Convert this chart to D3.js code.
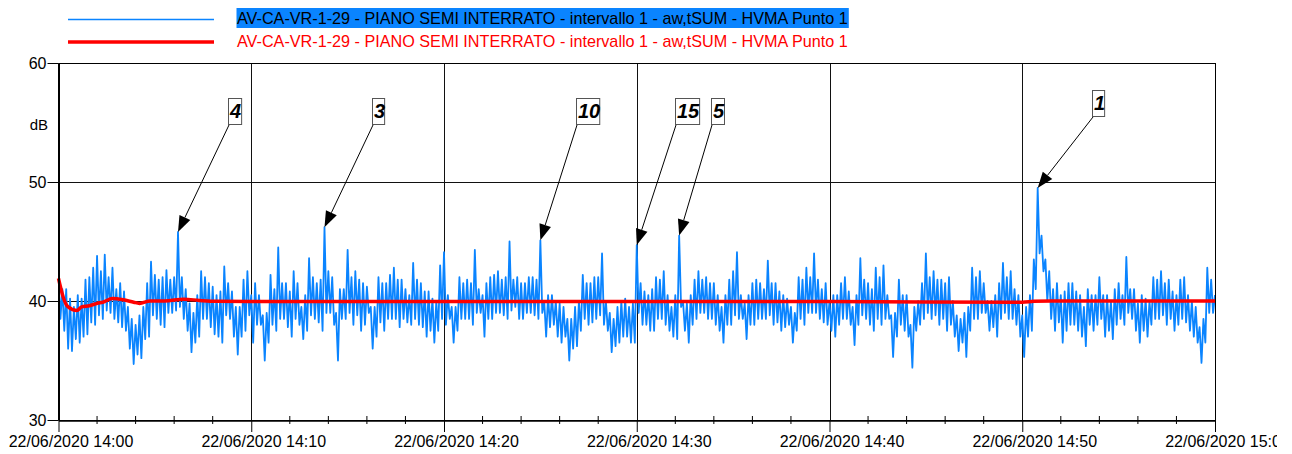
<!DOCTYPE html>
<html>
<head>
<meta charset="utf-8">
<script src="https://cdn.jsdelivr.net/npm/d3@7"></script>
<style>
body { margin: 0; background: #fff; }
svg { display: block; font-family: "Liberation Sans", Arial, sans-serif; }
</style>
</head>
<body>
<svg id="chart" width="1292" height="454"></svg>
<script>
var seriesName = "AV-CA-VR-1-29 - PIANO SEMI INTERRATO - intervallo 1 - aw,tSUM - HVMA Punto 1";
var startTime = new Date(2020, 5, 22, 14, 0, 0);
var endTime = new Date(2020, 5, 22, 15, 0, 0);
var stepSeconds = 6;
var yTicks = [30, 40, 50, 60];

// blue: short level, one value every 6 s
var levelValues = [
  42.2, 38.5, 41.0, 37.5, 41.0, 36.0, 40.2, 35.8, 39.5, 36.8, 40.5, 36.5, 40.2, 37.0, 41.8, 37.2, 42.0, 38.2, 42.8, 38.0,
  43.8, 38.8, 42.5, 38.5, 43.9, 39.2, 42.0, 39.0, 42.8, 38.5, 41.0, 38.2, 41.5, 37.8, 40.8, 37.5, 39.5, 36.0, 38.5, 34.7,
  38.0, 35.5, 38.8, 35.2, 39.5, 36.8, 41.5, 37.0, 43.3, 38.8, 42.2, 38.5, 41.8, 38.0, 42.0, 37.8, 42.6, 39.0, 41.8, 39.0,
  42.0, 39.2, 45.8, 39.5, 42.0, 38.5, 41.0, 37.5, 39.8, 35.7, 39.0, 36.5, 40.5, 37.0, 42.5, 38.5, 42.0, 38.5, 41.5, 37.8,
  41.2, 37.2, 40.5, 37.0, 40.8, 36.5, 42.9, 38.8, 41.5, 38.5, 40.8, 37.0, 39.5, 35.5, 39.5, 37.0, 41.8, 37.5, 42.5, 38.8,
  40.5, 36.5, 41.5, 38.0, 40.5, 38.0, 38.8, 35.0, 39.0, 36.5, 42.2, 38.0, 41.0, 37.5, 44.5, 38.5, 41.5, 38.5, 41.5, 37.8,
  40.8, 37.0, 42.5, 38.5, 41.5, 38.0, 39.5, 36.8, 40.5, 37.5, 43.6, 38.8, 42.0, 38.5, 41.5, 38.2, 41.8, 37.5, 46.2, 39.0,
  42.5, 39.0, 42.0, 38.0, 39.0, 35.0, 41.0, 38.5, 41.0, 38.5, 44.3, 39.0, 42.0, 38.0, 42.5, 38.8, 41.8, 37.5, 41.5, 38.0,
  41.2, 39.0, 39.5, 36.0, 39.5, 37.0, 42.0, 38.2, 41.5, 37.5, 41.5, 38.5, 42.2, 38.5, 42.8, 38.5, 41.8, 37.8, 41.8, 38.5,
  41.0, 38.2, 40.5, 38.0, 43.2, 38.5, 41.8, 38.0, 41.5, 37.8, 40.8, 37.0, 40.8, 37.5, 40.2, 36.5, 40.0, 37.5, 43.0, 38.5,
  44.1, 38.0, 40.5, 38.5, 39.5, 36.5, 39.5, 37.5, 42.0, 38.5, 41.5, 38.5, 41.8, 38.5, 41.5, 38.0, 44.3, 39.0, 41.0, 39.0,
  40.5, 37.0, 41.5, 38.5, 42.0, 38.5, 42.2, 39.0, 42.5, 39.0, 41.8, 38.8, 42.0, 38.5, 45.0, 39.2, 41.8, 39.5, 42.0, 38.5,
  41.5, 38.5, 41.5, 39.0, 42.0, 39.0, 42.0, 38.8, 41.8, 38.5, 45.1, 39.0, 40.0, 37.0, 40.5, 37.8, 40.5, 38.0, 40.0, 37.0,
  39.8, 36.5, 39.5, 37.0, 38.5, 35.0, 38.5, 36.0, 39.5, 36.2, 40.0, 37.5, 42.2, 38.5, 41.5, 38.0, 41.5, 38.2, 42.0, 38.5,
  42.0, 38.8, 44.0, 38.0, 40.0, 37.5, 39.0, 35.7, 38.5, 36.2, 39.5, 36.5, 40.0, 37.0, 40.2, 37.0, 39.5, 36.5, 39.8, 36.5,
  44.7, 39.0, 41.5, 38.0, 40.8, 38.0, 40.5, 37.5, 41.0, 37.5, 42.0, 38.5, 41.8, 38.5, 42.5, 38.0, 40.5, 37.5, 39.5, 37.0,
  40.5, 36.8, 45.5, 39.5, 40.0, 37.5, 39.8, 36.5, 40.5, 38.0, 41.8, 38.5, 42.5, 39.0, 41.8, 39.0, 42.0, 38.5, 41.5, 38.5,
  41.5, 38.0, 40.5, 37.5, 39.5, 36.5, 40.5, 38.0, 41.8, 38.0, 42.5, 38.8, 44.1, 38.5, 40.5, 38.5, 39.8, 36.8, 40.5, 38.0,
  41.5, 38.0, 41.8, 38.5, 41.5, 38.5, 41.0, 38.5, 43.4, 38.8, 41.5, 38.0, 41.5, 38.2, 40.8, 37.5, 40.5, 37.8, 40.2, 38.0,
  39.5, 36.5, 39.0, 37.5, 42.0, 38.5, 41.8, 38.0, 42.8, 39.0, 42.0, 39.0, 44.0, 39.0, 41.8, 38.5, 41.0, 38.2, 41.5, 38.0,
  40.0, 37.5, 40.5, 37.0, 40.5, 38.0, 41.5, 38.5, 42.0, 38.5, 40.8, 38.0, 39.5, 36.3, 40.5, 38.0, 43.6, 38.8, 41.8, 38.5,
  41.5, 38.0, 41.0, 37.5, 42.8, 38.5, 42.0, 38.0, 43.0, 38.5, 40.5, 38.5, 38.8, 35.3, 39.0, 37.0, 41.8, 38.0, 40.5, 37.5,
  40.5, 37.0, 38.0, 34.4, 39.5, 37.5, 40.0, 38.0, 41.5, 38.5, 44.0, 39.0, 42.0, 38.5, 42.5, 38.8, 41.8, 38.0, 41.8, 38.5,
  41.5, 37.5, 42.0, 38.0, 40.0, 37.0, 38.8, 35.8, 38.5, 36.5, 39.0, 35.3, 39.5, 37.5, 42.8, 38.5, 42.0, 38.5, 42.5, 39.0,
  41.5, 39.0, 40.0, 37.5, 40.0, 37.8, 40.5, 37.0, 41.5, 38.5, 43.2, 39.0, 42.0, 38.5, 42.5, 38.5, 41.0, 38.0, 40.5, 37.0,
  38.8, 35.3, 39.5, 37.0, 40.5, 37.5, 43.5, 41.0, 49.5, 44.0, 45.5, 42.5, 43.5, 40.0, 42.5, 38.5, 41.0, 37.5, 41.5, 38.2,
  40.5, 36.5, 40.8, 37.5, 41.5, 38.0, 41.5, 38.0, 40.8, 37.5, 40.5, 37.0, 39.5, 36.2, 41.0, 38.0, 40.5, 37.5, 40.5, 38.0,
  42.0, 38.5, 40.5, 37.0, 40.5, 37.5, 40.0, 36.8, 41.0, 38.0, 41.5, 38.5, 40.5, 38.0, 43.7, 39.0, 41.0, 38.5, 41.0, 37.5,
  39.8, 36.5, 40.5, 37.5, 40.2, 37.0, 40.0, 38.0, 42.0, 38.5, 41.8, 38.5, 42.5, 38.8, 41.5, 38.0, 41.8, 38.5, 40.8, 37.5,
  40.5, 38.0, 41.8, 38.5, 42.0, 38.2, 40.5, 37.5, 40.0, 37.0, 39.5, 36.5, 37.8, 34.8, 38.5, 36.5, 42.8, 39.0, 41.8, 39.0,
  40.5
];

// red: running average
var averageMinutes = [0, 0.1, 0.25, 0.5, 0.95, 1.2, 1.6, 2.0, 2.3, 2.8, 3.35, 3.9, 4.2, 4.75, 5.5, 6.5, 7.3, 8.2, 10, 20, 30, 40, 50, 50.6, 51.5, 60];
var averageValues = [41.9, 41.2, 40.3, 39.5, 39.2, 39.5, 39.6, 39.8, 39.9, 40.2, 40.1, 39.9, 39.8, 40.0, 40.0, 40.15, 40.05, 39.97, 39.95, 39.95, 39.95, 39.95, 39.9, 39.97, 40.0, 40.0];

// marked events
var peakLabels = ["4", "3", "10", "15", "5", "1"];
var peakIndexes = [62, 138, 250, 300, 322, 508];

var plot = { left: 58.5, right: 1215, top: 63, bottom: 420 };
var boxPos = [[229, 98], [373, 98], [577, 98], [676, 98], [712, 98], [1093, 90]];

var svg = d3.select("#chart");

var x = d3.scaleTime().domain([startTime, endTime]).range([plot.left, plot.right]);
var y = d3.scaleLinear().domain([30, 60]).range([plot.bottom, plot.top]);

var levelData = levelValues.map(function(v, i) {
  return { t: new Date(startTime.getTime() + i * stepSeconds * 1000), v: v };
});
var averageData = averageValues.map(function(v, i) {
  return { t: new Date(startTime.getTime() + averageMinutes[i] * 60000), v: v };
});

var majorTimes = d3.timeMinute.every(10).range(startTime, new Date(endTime.getTime() + 1));
var minorTimes = d3.timeMinute.every(2).range(startTime, endTime).filter(function(d) {
  return d.getMinutes() % 10 !== 0;
});

// grid
var grid = svg.append("g").attr("stroke", "#111").attr("stroke-width", 1);
grid.selectAll(".hgrid")
  .data([40, 50, 60])
  .enter()
  .append("line")
  .attr("x1", plot.left).attr("x2", plot.right)
  .attr("y1", function(d) { return Math.round(y(d)) + 0.5; })
  .attr("y2", function(d) { return Math.round(y(d)) + 0.5; });
grid.selectAll(".vgrid")
  .data(majorTimes.slice(1))
  .enter()
  .append("line")
  .attr("x1", function(d) { return Math.round(x(d)) + 0.5; })
  .attr("x2", function(d) { return Math.round(x(d)) + 0.5; })
  .attr("y1", plot.top).attr("y2", plot.bottom);

svg.append("clipPath").attr("id", "plotclip")
  .append("rect")
  .attr("x", plot.left).attr("y", plot.top)
  .attr("width", plot.right - plot.left).attr("height", plot.bottom - plot.top);

var levelLine = d3.line()
  .x(function(d) { return x(d.t); })
  .y(function(d) { return y(d.v); });

svg.append("path")
  .datum(levelData)
  .attr("clip-path", "url(#plotclip)")
  .attr("fill", "none")
  .attr("stroke", "#0a84ff")
  .attr("stroke-width", 1.8)
  .attr("stroke-linejoin", "round")
  .attr("d", levelLine);

svg.append("path")
  .datum(averageData)
  .attr("fill", "none")
  .attr("stroke", "#ff0000")
  .attr("stroke-width", 3.5)
  .attr("stroke-linejoin", "round")
  .attr("d", d3.line().curve(d3.curveMonotoneX)
    .x(function(d) { return x(d.t); })
    .y(function(d) { return y(d.v); }));

// y axis
var yAxis = svg.append("g")
  .attr("transform", "translate(" + plot.left + ",0)")
  .call(d3.axisLeft(y).tickValues(yTicks).tickSize(11).tickPadding(1).tickSizeOuter(0));
yAxis.select(".domain").attr("stroke", "#000").attr("stroke-width", 2);
yAxis.selectAll(".tick line").attr("stroke", "#000");
yAxis.selectAll(".tick text")
  .attr("font-family", "Liberation Sans, Arial, sans-serif")
  .attr("font-size", 16)
  .attr("fill", "#000");

svg.append("text")
  .attr("x", 48).attr("y", 130)
  .attr("text-anchor", "end")
  .attr("font-size", 15)
  .text("dB");

// x axis
var xAxis = svg.append("g")
  .attr("transform", "translate(0," + plot.bottom + ")")
  .call(d3.axisBottom(x)
    .tickValues(majorTimes)
    .tickSize(12)
    .tickPadding(4)
    .tickSizeOuter(0)
    .tickFormat(d3.timeFormat("%d/%m/%Y %H:%M")));
xAxis.select(".domain").attr("stroke", "#000").attr("stroke-width", 2.5);
xAxis.selectAll(".tick line").attr("stroke", "#000");
xAxis.selectAll(".tick text")
  .attr("font-family", "Liberation Sans, Arial, sans-serif")
  .attr("font-size", 16)
  .attr("fill", "#000")
  .attr("dx", 12);

svg.append("clipPath").attr("id", "labelclip")
  .append("rect").attr("x", 0).attr("y", 0).attr("width", 1277).attr("height", 454);
xAxis.attr("clip-path", "url(#labelclip)");

svg.append("g").selectAll("line")
  .data(minorTimes)
  .enter()
  .append("line")
  .attr("x1", function(d) { return x(d); })
  .attr("x2", function(d) { return x(d); })
  .attr("y1", plot.bottom - 4)
  .attr("y2", plot.bottom + 4)
  .attr("stroke", "#000");

// frame on top and right
svg.append("line")
  .attr("x1", plot.left).attr("x2", plot.right)
  .attr("y1", plot.top + 0.5).attr("y2", plot.top + 0.5)
  .attr("stroke", "#000");
svg.append("line")
  .attr("x1", plot.right + 0.5).attr("x2", plot.right + 0.5)
  .attr("y1", plot.top).attr("y2", plot.bottom)
  .attr("stroke", "#000");

// annotations
var notes = svg.append("g");
peakLabels.forEach(function(label, k) {
  var d = levelData[peakIndexes[k]];
  var tipX = x(d.t), tipY = y(d.v);
  var bx = boxPos[k][0], by = boxPos[k][1];

  var txt = notes.append("text")
    .attr("x", bx + 1).attr("y", by + 20)
    .attr("font-size", 20)
    .attr("font-weight", "bold")
    .attr("font-style", "italic")
    .attr("fill", "#000")
    .text(label);
  var bb = txt.node().getBBox();
  notes.insert("rect", "text")
    .attr("x", bx - 0.5).attr("y", by + 0.5)
    .attr("width", bb.width + 1).attr("height", 26)
    .attr("fill", "#fff")
    .attr("stroke", "#555");

  var sx = bx, sy = by + 27;
  var dx = tipX - sx, dy = tipY - sy;
  var len = Math.sqrt(dx * dx + dy * dy);
  var ux = dx / len, uy = dy / len;
  var headLen = 16, headW = 6;
  var baseX = tipX - ux * headLen, baseY = tipY - uy * headLen;
  notes.append("line")
    .attr("x1", sx).attr("y1", sy)
    .attr("x2", baseX).attr("y2", baseY)
    .attr("stroke", "#000").attr("stroke-width", 1);
  notes.append("polygon")
    .attr("points", [
      [tipX, tipY],
      [baseX - uy * headW, baseY + ux * headW],
      [baseX + uy * headW, baseY - ux * headW]
    ].map(function(p) { return p.join(","); }).join(" "))
    .attr("fill", "#000");
});

// legend
var legend = svg.append("g");
legend.append("line")
  .attr("x1", 68).attr("x2", 214).attr("y1", 19.5).attr("y2", 19.5)
  .attr("stroke", "#0a84ff").attr("stroke-width", 1.5);
legend.append("line")
  .attr("x1", 68).attr("x2", 214).attr("y1", 42).attr("y2", 42)
  .attr("stroke", "#ff0000").attr("stroke-width", 3.5);

var blueText = legend.append("text")
  .attr("x", 237).attr("y", 24)
  .attr("font-size", 16.2)
  .attr("fill", "#000")
  .text(seriesName);
var tb = blueText.node().getBBox();
legend.insert("rect", "text")
  .attr("x", 236.5).attr("y", 8)
  .attr("width", tb.width + 1.5).attr("height", 20)
  .attr("fill", "#0a84ff");

legend.append("text")
  .attr("x", 237).attr("y", 47)
  .attr("font-size", 16.2)
  .attr("fill", "#ff0000")
  .text(seriesName);
</script>
</body>
</html>
